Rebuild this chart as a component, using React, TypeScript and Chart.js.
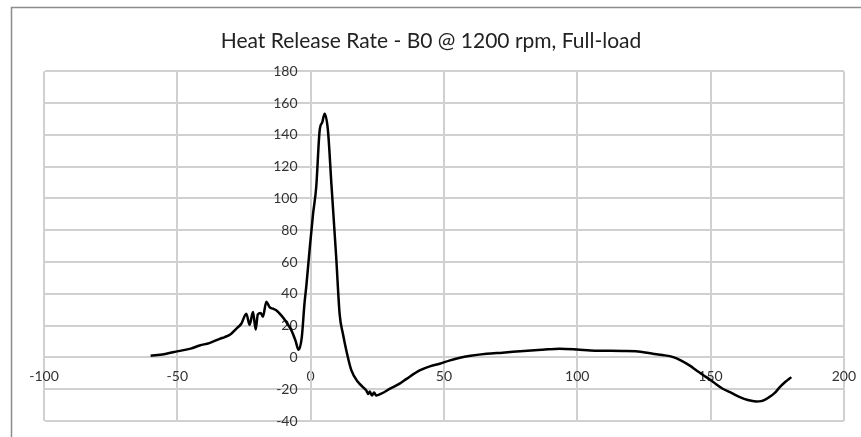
import React, { useEffect, useRef } from "react";
import { Chart, registerables } from "chart.js";

Chart.register(...registerables);

const TITLE = "Heat Release Rate - B0 @ 1200 rpm, Full-load";

const crankAngle: number[] = [
  -60, -55, -51.6, -45, -41.6, -38, -34.1, -32.2, -30, -27.9, -26, -24.1, -22.9, -21.6, -20.6, -19.8,
  -18.7, -17.9, -16.6, -15.4, -14.1, -12.9, -11, -9.1, -7.2, -5.7, -4.5, -3.3, -2.3, -1.6, -0.4, 0.9,
  2.1, 3.4, 4.4, 5.25, 6.5, 7.8, 9.6, 10.9, 12.1, 13.4, 15.3, 17.8, 19.5, 20.9, 21.6, 22.2, 23, 23.8,
  24.6, 26.5, 30, 33.4, 36, 40.9, 45, 48.4, 52, 56, 60, 66, 72, 80, 87, 93.4, 100, 105, 111, 117, 122,
  128.4, 132, 136, 139, 142.1, 145, 148.4, 151, 154.6, 158, 161, 164, 167.1, 169, 172, 174, 176, 178,
  180.3,
];

const heatRelease: number[] = [
  1, 2, 3.3, 5.5, 7.5, 9, 11.7, 12.8, 14.5, 18, 21.2, 27.5, 20.5, 28.5, 17.5, 27,
  28, 25.5, 35, 31.6, 30.6, 29.6, 26.4, 22.2, 17, 10.7, 4.8, 12.8, 33.8, 45, 67.3, 90,
  107, 142.8, 148, 153.3, 142.8, 109, 63, 27, 15, 4.4, -8.2, -15.5, -18.5, -20.8, -23, -21.5, -24, -22,
  -24, -22.8, -19.5, -16.5, -13.5, -8.2, -5.5, -4, -2, -0.2, 1, 2.3, 3, 4, 4.8, 5.5, 5, 4.4, 4.2, 4, 3.8,
  2.3, 1.5, 0.2, -2, -5, -8.5, -12.4, -15.5, -19.7, -22.5, -25, -26.8, -27.7, -27.5, -25, -22.5, -18.7, -15.5,
  -12.4,
];

const xTicks: number[] = [-100, -50, 0, 50, 100, 150, 200];
const yTicks: number[] = [-40, -20, 0, 20, 40, 60, 80, 100, 120, 140, 160, 180];

const FONT = "Lato, 'Noto Sans', sans-serif";

const borderPlugin = {
  id: "outerBorder",
  beforeDraw(chart: any) {
    const ctx = chart.ctx;
    ctx.save();
    ctx.fillStyle = "#ffffff";
    ctx.fillRect(0, 0, chart.width, chart.height);
    ctx.strokeStyle = "#8c8c8c";
    ctx.lineWidth = 1.5;
    ctx.beginPath();
    ctx.moveTo(11.5, chart.height);
    ctx.lineTo(11.5, 7.5);
    ctx.lineTo(chart.width, 7.5);
    ctx.stroke();
    ctx.restore();
  },
};

// Places the y axis (and its labels) on the x = 0 line, and centres the title on the whole frame.
const yAxisAtZero = {
  id: "yAxisAtZero",
  afterLayout(chart: any) {
    const x = chart.scales.x;
    const y = chart.scales.y;
    const px = x.getPixelForValue(0);
    y.left = px - 60;
    y.right = px;
    y.width = 60;
    y._gridLineItems = null;
    y._labelItemsCache = null;
    const t = chart.titleBlock;
    if (t) {
      t.left = 0;
      t.right = chart.width + 1;
      t.width = chart.width + 1;
    }
  },
};

export default function App() {
  const ref = useRef<HTMLCanvasElement | null>(null);

  useEffect(() => {
    if (!ref.current) return;
    const points = crankAngle.map((x, i) => ({ x, y: heatRelease[i] }));
    const chart = new Chart(ref.current, {
      type: "line",
      data: {
        datasets: [
          {
            data: points,
            borderColor: "#000000",
            borderWidth: 2.5,
            pointRadius: 0,
            fill: false,
            cubicInterpolationMode: "monotone",
          },
        ],
      },
      options: {
        responsive: false,
        animation: false,
        layout: { padding: { left: 44, right: 17, top: 19, bottom: 16 } },
        plugins: {
          legend: { display: false },
          tooltip: { enabled: false },
          title: {
            display: true,
            text: TITLE,
            color: "#222222",
            font: { family: FONT, size: 21, weight: "normal" },
            padding: { top: 10, bottom: 17 },
          },
        },
        scales: {
          x: {
            type: "linear",
            min: -100,
            max: 200,
            position: { y: 0 },
            afterFit: (s: any) => {
              s.height = 0;
            },
            afterBuildTicks: (s: any) => {
              s.ticks = xTicks.map((v) => ({ value: v }));
            },
            grid: { color: "#d0d0d0", lineWidth: 2, tickLength: 6, drawTicks: true },
            border: { color: "#d0d0d0", width: 2 },
            ticks: {
              color: "#333333",
              font: { family: FONT, size: 14 },
              padding: 5,
              maxRotation: 0,
              autoSkip: false,
            },
          },
          y: {
            type: "linear",
            min: -40,
            max: 180,
            position: "left",
            afterFit: (s: any) => {
              s.width = 0;
            },
            afterBuildTicks: (s: any) => {
              s.ticks = yTicks.map((v) => ({ value: v }));
            },
            grid: { color: "#d0d0d0", lineWidth: 2, tickLength: 8, drawTicks: true },
            border: { color: "#d0d0d0", width: 2 },
            ticks: {
              color: "#333333",
              font: { family: FONT, size: 14 },
              padding: 5,
              autoSkip: false,
            },
          },
        },
      },
      plugins: [borderPlugin, yAxisAtZero],
    });
    return () => chart.destroy();
  }, []);

  return (
    <div style={{ position: "absolute", left: 0, top: 0, width: 861, height: 437 }}>
      <canvas ref={ref} width={861} height={437} />
    </div>
  );
}
